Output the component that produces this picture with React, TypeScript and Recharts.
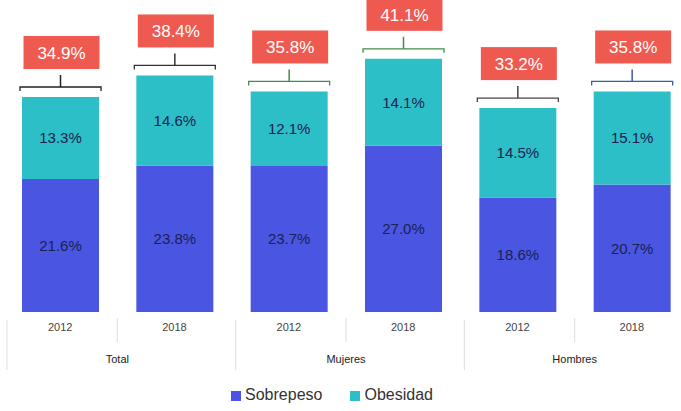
import { Bar, BarChart, LabelList, Legend, XAxis, YAxis } from "recharts"

const years = ["2012", "2018", "2012", "2018", "2012", "2018"]
const groups = ["Total", "Total", "Mujeres", "Mujeres", "Hombres", "Hombres"]
const sobrepeso = [21.6, 23.8, 23.7, 27.0, 18.6, 20.7]
const obesidad = [13.3, 14.6, 12.1, 14.1, 14.5, 15.1]
const totals = [34.9, 38.4, 35.8, 41.1, 33.2, 35.8]
const seriesNames = ["Sobrepeso", "Obesidad"]

const BLUE = "#4a56e2"
const TEAL = "#2dbfc7"
const RED = "#ef5a50"
const BRACKET_COLORS = ["#222", "#333", "#3f8f4a", "#3f8f4a", "#444", "#3b5ba8"]
const FONT = "'Liberation Sans', Arial, sans-serif"
const YEAR_AXIS_H = 26

const chartData = years.map((year, i) => ({
    year,
    group: groups[i],
    sobrepeso: sobrepeso[i],
    obesidad: obesidad[i],
    total: totals[i],
}))

const pct = (v: any) => `${Number(v).toFixed(1)}%`

function TotalLabel(props: any) {
    const { x, y, width, index } = props
    const cx = x + width / 2
    const by = y - 10
    const color = BRACKET_COLORS[index]
    return (
        <g>
            <path
                d={`M${x - 2},${by + 4} L${x - 2},${by} L${x + width + 2},${by} L${x + width + 2},${by + 4}`}
                stroke={color}
                strokeWidth={1.3}
                fill="none"
            />
            <line x1={cx} y1={by} x2={cx} y2={by - 12} stroke={color} strokeWidth={1.5} />
            <rect x={cx - 37} y={y - 61} width={76} height={33} fill={RED} />
            <text
                x={cx + 1}
                y={y - 38}
                textAnchor="middle"
                fill="#fff"
                fontSize={17}
                fontFamily={FONT}
            >
                {pct(totals[index])}
            </text>
        </g>
    )
}

function YearTick(props: any) {
    const { x, y, payload } = props
    const half = payload.offset || 0
    return (
        <g>
            {payload.index % 2 === 1 && (
                <line x1={x - half} y1={y - 2} x2={x - half} y2={y + 22} stroke="#ddd" />
            )}
            <text x={x} y={y + 11} textAnchor="middle" fill="#444" fontSize={11} fontFamily={FONT}>
                {payload.value}
            </text>
        </g>
    )
}

function GroupTick(props: any) {
    const { x, y, payload } = props
    const half = payload.offset || 0
    return (
        <g>
            <line x1={x - half + 4} y1={y - YEAR_AXIS_H} x2={x - half + 4} y2={y + 24} stroke="#ddd" />
            <text x={x} y={y + 17} textAnchor="middle" fill="#222" fontSize={11} fontFamily={FONT}>
                {payload.value}
            </text>
        </g>
    )
}

export default function App() {
    return (
        <div style={{ position: "absolute", left: 0, top: 0, width: 681, height: 411, background: "#fff" }}>
            <BarChart
                width={681}
                height={411}
                data={chartData}
                margin={{ top: 4, right: -8, left: 3, bottom: 0 }}
            >
                <XAxis
                    dataKey="year"
                    axisLine={false}
                    tickLine={false}
                    height={YEAR_AXIS_H}
                    tick={<YearTick />}
                    interval={0}
                />
                <XAxis
                    xAxisId="group"
                    dataKey="group"
                    allowDuplicatedCategory={false}
                    axisLine={false}
                    tickLine={false}
                    height={32}
                    tick={<GroupTick />}
                    interval={0}
                />
                <YAxis hide domain={[0, 50]} />
                <Legend
                    verticalAlign="bottom"
                    iconType="square"
                    iconSize={10}
                    height={41}
                    itemSorter={(item: any) => seriesNames.indexOf(item.value)}
                    wrapperStyle={{ top: 386, fontFamily: FONT, fontSize: 16 }}
                    formatter={(value) => (
                        <span style={{ color: "#333", marginRight: 18 }}>{value}</span>
                    )}
                />
                <Bar dataKey="sobrepeso" name="Sobrepeso" stackId="a" fill={BLUE} barSize={77} isAnimationActive={false}>
                    <LabelList
                        dataKey="sobrepeso"
                        position="center"
                        formatter={pct}
                        fill="#1b2050"
                        fontSize={15}
                        fontFamily={FONT}
                    />
                </Bar>
                <Bar dataKey="obesidad" name="Obesidad" stackId="a" fill={TEAL} barSize={77} isAnimationActive={false}>
                    <LabelList
                        dataKey="obesidad"
                        position="center"
                        formatter={pct}
                        fill="#1b2050"
                        fontSize={15}
                        fontFamily={FONT}
                    />
                    <LabelList dataKey="total" content={<TotalLabel />} />
                </Bar>
            </BarChart>
        </div>
    )
}
